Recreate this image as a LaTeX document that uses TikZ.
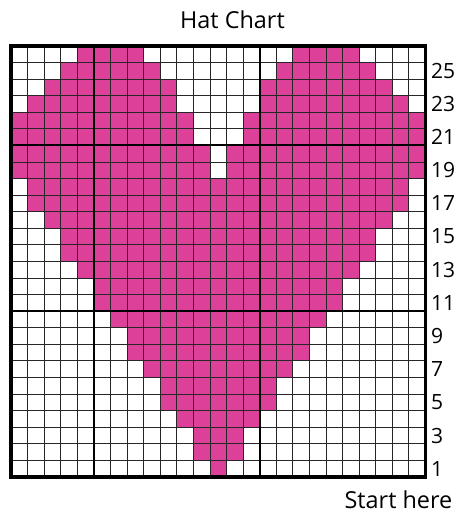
\documentclass[tikz,border=0pt]{standalone}
\usepackage{fontspec}
\setmainfont{Open Sans}
\definecolor{heartpink}{HTML}{DD4099}
\begin{document}
\begin{tikzpicture}[
  x=1pt,y=1pt,
  cellfill/.style={fill=heartpink},
  thingrid/.style={line width=0.9pt,draw=black!85},
  thickgrid/.style={line width=2pt,draw=black},
  borderline/.style={line width=3.4pt,draw=black},
  rowlabel/.style={anchor=west,inner sep=0pt,font=\fontsize{21}{24}\selectfont},
  titletext/.style={inner sep=0pt,font=\fontsize{23.4}{28}\selectfont}
]
\useasboundingbox (0,0) rectangle (456,514);
\node[titletext,anchor=base] (title) at (232.5,485) {Hat Chart};
\node[titletext,anchor=base east] (start) at (452.5,5.3) {Start here};
\begin{scope}[shift={(11,37)},x=16.58pt,y=16.58pt]
  \foreach \r/\a/\b in {26/5/8,26/18/21,25/4/9,25/17/22,24/3/10,24/16/23,23/2/10,23/16/24,
    22/1/11,22/15/25,21/1/11,21/15/25,20/1/12,20/14/25,19/1/12,19/14/25,
    18/2/24,17/2/24,16/3/23,15/4/22,14/4/22,13/5/21,12/6/20,11/6/20,10/7/19,
    9/8/18,8/8/18,7/9/17,6/10/16,5/10/16,4/11/15,3/12/14,2/12/14,1/13/13}
    \fill[cellfill] (\a-1,\r-1) rectangle (\b,\r);
  \foreach \i in {1,...,24}
    \draw[thingrid] (\i,0) -- (\i,26);
  \foreach \j in {1,...,25}
    \draw[thingrid] (0,\j) -- (25,\j);
  \draw[thickgrid] (5,0) -- (5,26) (15,0) -- (15,26) (0,10) -- (25,10) (0,20) -- (25,20);
  \draw[borderline] (0,0) rectangle (25,26);
  \foreach \r in {1,3,...,25}
    \node[rowlabel] (lab\r) at (25.33,\r-0.5) {\r};
\end{scope}
\end{tikzpicture}
\end{document}
